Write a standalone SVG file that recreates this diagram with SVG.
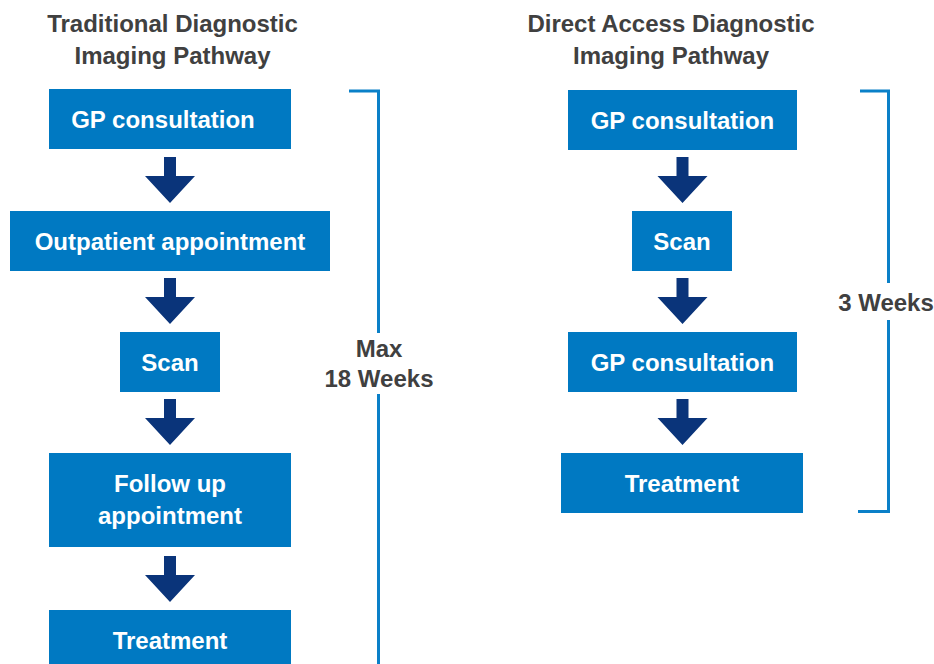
<svg xmlns="http://www.w3.org/2000/svg" width="934" height="664" viewBox="0 0 934 664">
<style>
  .t{font-family:"Liberation Sans",Arial,sans-serif;font-weight:bold;font-size:24px;text-anchor:middle}
  .title{fill:#404040}
  .lbl{fill:#ffffff}
  .box{fill:#0079c2}
  .arr{fill:#0a347a}
  .br{fill:none;stroke:#0a80c8;stroke-width:3}
</style>
<rect width="934" height="664" fill="#ffffff"/>
<g id="titles">
  <text class="t title" x="172.5" y="32">Traditional Diagnostic</text>
  <text class="t title" x="172.5" y="63.5">Imaging Pathway</text>
  <text class="t title" x="671" y="32">Direct Access Diagnostic</text>
  <text class="t title" x="671" y="63.5">Imaging Pathway</text>
</g>
<g id="connectors">
  <polygon class="arr" points="164,157 176,157 176,176 195,176 170,203 145,176 164,176"/>
  <polygon class="arr" points="164,278 176,278 176,297 195,297 170,324 145,297 164,297"/>
  <polygon class="arr" points="164,399 176,399 176,418 195,418 170,445 145,418 164,418"/>
  <polygon class="arr" points="164,556 176,556 176,575 195,575 170,602 145,575 164,575"/>
  <polygon class="arr" points="676.5,157 688.5,157 688.5,176 707.5,176 682.5,203 657.5,176 676.5,176"/>
  <polygon class="arr" points="676.5,278 688.5,278 688.5,297 707.5,297 682.5,324 657.5,297 676.5,297"/>
  <polygon class="arr" points="676.5,399 688.5,399 688.5,418 707.5,418 682.5,445 657.5,418 676.5,418"/>
</g>
<g id="L1"><rect class="box" x="49" y="89" width="242" height="60"/><text class="t lbl" x="163" y="128">GP consultation</text></g>
<g id="L2"><rect class="box" x="10" y="211" width="320" height="60"/><text class="t lbl" x="170" y="249.5">Outpatient appointment</text></g>
<g id="L3"><rect class="box" x="120" y="332" width="100" height="60"/><text class="t lbl" x="170" y="370.5">Scan</text></g>
<g id="L4"><rect class="box" x="49" y="453" width="242" height="94"/><text class="t lbl" x="170" y="492">Follow up</text><text class="t lbl" x="170" y="523.5">appointment</text></g>
<g id="L5"><rect class="box" x="49" y="610" width="242" height="60"/><text class="t lbl" x="170" y="648.5">Treatment</text></g>
<g id="R1"><rect class="box" x="568" y="90" width="229" height="60"/><text class="t lbl" x="682.5" y="129">GP consultation</text></g>
<g id="R2"><rect class="box" x="632" y="211" width="100" height="60"/><text class="t lbl" x="682" y="249.5">Scan</text></g>
<g id="R3"><rect class="box" x="568" y="332" width="229" height="60"/><text class="t lbl" x="682.5" y="370.5">GP consultation</text></g>
<g id="R4"><rect class="box" x="561" y="453" width="242" height="60"/><text class="t lbl" x="682" y="491.5">Treatment</text></g>
<g id="bracket-left">
  <path class="br" d="M349,91 H378.5 V333 M378.5,394 V664"/>
  <text class="t title" x="379" y="357">Max</text>
  <text class="t title" x="379" y="387">18 Weeks</text>
</g>
<g id="bracket-right">
  <path class="br" d="M860,91 H888.5 V283 M888.5,320 V511.5 H858"/>
  <text class="t title" x="886" y="311">3 Weeks</text>
</g>
</svg>
